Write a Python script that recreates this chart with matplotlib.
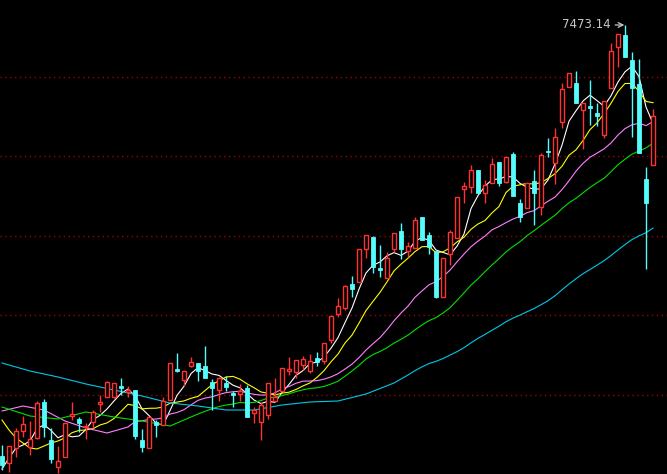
import matplotlib
matplotlib.use("Agg")
import matplotlib.pyplot as plt
import numpy as np
import pandas as pd

# OHLC values (left to right)
opens = [3163, 3093, 3243, 3413, 3253, 3343, 3703, 3323, 3053, 3153,
         3563, 3533, 3453, 3503, 3683, 3753, 3753, 3863, 3803, 3823,
         3323, 3243, 3503, 3473, 3723, 4033, 3923, 4063, 4093, 4063,
         3903, 3823, 3893, 3793, 3783, 3843, 3593, 3503, 3573, 3713,
         3813, 4013, 4003, 4073, 4013, 4143, 4113, 4323, 4583, 4643,
         4883, 4903, 5233, 5353, 5043, 4943, 5233, 5413, 5213, 5243,
         5553, 5373, 5213, 4753, 5183, 5343, 5833, 5853, 6023, 5793,
         5893, 6103, 5903, 6183, 5693, 5643, 5913, 5653, 6213, 6093,
         6503, 6853, 6893, 6623, 6663, 6593, 6373, 6843, 7253, 7373,
         7123, 6883, 5933, 6073]
highs = [3273, 3263, 3443, 3563, 3513, 3713, 3733, 3443, 3263, 3493,
         3703, 3553, 3493, 3623, 3773, 3913, 3893, 3943, 3863, 3823,
         3433, 3553, 3523, 3753, 4093, 4193, 4013, 4153, 4093, 4263,
         3933, 3953, 3963, 3813, 3883, 3873, 3653, 3703, 3893, 3943,
         4043, 4153, 4123, 4163, 4183, 4203, 4293, 4563, 4743, 4873,
         4963, 5233, 5373, 5363, 5273, 5203, 5393, 5493, 5303, 5553,
         5553, 5403, 5213, 5143, 5423, 5753, 5903, 6073, 6023, 5923,
         6143, 6103, 6153, 6203, 5733, 5893, 6023, 6193, 6343, 6443,
         6893, 6993, 7013, 6693, 6923, 6693, 6713, 7293, 7383, 7473.14,
         7203, 7133, 6053, 6633]
lows = [3023, 3003, 3153, 3353, 3173, 3333, 3353, 3093, 2993, 3153,
        3523, 3403, 3333, 3443, 3603, 3753, 3743, 3773, 3753, 3333,
        3203, 3243, 3353, 3473, 3723, 4003, 3863, 4053, 3913, 3943,
        3623, 3713, 3813, 3653, 3713, 3553, 3493, 3323, 3533, 3703,
        3813, 3973, 3943, 4023, 3993, 4063, 4083, 4293, 4553, 4623,
        4753, 4903, 5143, 4993, 4953, 4943, 5203, 5133, 5153, 5243,
        5323, 5183, 4743, 4753, 5073, 5343, 5693, 5793, 5793, 5693,
        5893, 5863, 5893, 5763, 5503, 5643, 5473, 5573, 6153, 5883,
        6443, 6853, 6693, 6233, 6473, 6463, 6343, 6843, 7053, 7153,
        6353, 6193, 5033, 6073]
closes = [3073, 3263, 3413, 3483, 3333, 3693, 3453, 3133, 3113, 3493,
          3583, 3493, 3463, 3603, 3703, 3903, 3893, 3843, 3823, 3363,
          3253, 3553, 3473, 3713, 4093, 4013, 4013, 4103, 4013, 3943,
          3843, 3943, 3853, 3773, 3813, 3553, 3623, 3673, 3893, 3753,
          4043, 4033, 4123, 4133, 4113, 4103, 4293, 4563, 4663, 4863,
          4833, 5233, 5373, 5053, 5023, 5143, 5393, 5233, 5263, 5523,
          5323, 5253, 4753, 5143, 5403, 5753, 5863, 6023, 5793, 5873,
          6083, 5893, 6153, 5763, 5553, 5893, 5793, 6173, 6203, 6353,
          6833, 6993, 6693, 6693, 6643, 6563, 6713, 7213, 7383, 7153,
          6843, 6193, 5693, 6563]

# moving-average values at the left edge (their history is off-chart)
ma5_head_idx = [0, 1, 2, 3]
ma5_head_val = [3033, 3143, 3243, 3273]
ma10_head_idx = [0, 1, 2, 3, 4, 5, 6, 7, 8]
ma10_head_val = [3523, 3423, 3343, 3293, 3243, 3233, 3263, 3293, 3313]
ma20_head_idx = [0, 3, 6, 9, 12, 15, 18]
ma20_head_val = [3613, 3663, 3623, 3513, 3443, 3393, 3453]
ma30_head_idx = [0, 4, 8, 12, 16, 20, 24, 28]
ma30_head_val = [3653, 3563, 3533, 3603, 3553, 3513, 3463, 3583]
ma60_head_idx = [0, 4, 8, 12, 16, 20, 24, 28, 32, 36, 40, 44, 48, 52, 56, 58]
ma60_head_val = [4093, 4013, 3953, 3883, 3823, 3763, 3693, 3663, 3623,
                 3623, 3673, 3703, 3713, 3783, 3893, 3973]

grid_levels = [6955, 6160, 5365, 4570, 3775]
max_label = "7473.14"

UP = "#ff3232"
DOWN = "#54fcfc"
BG = "black"

o = np.array(opens, float)
h = np.array(highs, float)
l = np.array(lows, float)
c = np.array(closes, float)
x = np.arange(len(c))

fig = plt.figure(figsize=(6.67, 4.74), dpi=100, facecolor=BG)
ax = fig.add_axes([0, 0, 1, 1], facecolor=BG)
ax.set_xlim(-2 / 7, -2 / 7 + 667 / 7)
ax.set_ylim(2983, 7723)
ax.axis("off")

for g in grid_levels:
    ax.axhline(g, color="#a00000", lw=1, ls=(0, (1, 2.5)), zorder=1)

# moving averages
s = pd.Series(c)
ma_specs = [
    (5, ma5_head_idx, ma5_head_val, "white"),
    (10, ma10_head_idx, ma10_head_val, "#ffff00"),
    (20, ma20_head_idx, ma20_head_val, "#ff80ff"),
    (30, ma30_head_idx, ma30_head_val, "#00e000"),
    (60, ma60_head_idx, ma60_head_val, "#00c8e8"),
]
for n, hi, hv, col in ma_specs:
    ma = s.rolling(n).mean().to_numpy()
    xs = list(hi) + list(x[n - 1:])
    ys = list(hv) + list(ma[n - 1:])
    ax.plot(xs, ys, color=col, lw=0.8, zorder=2)

# candles
up = c >= o
w = 0.7
top = np.maximum(o, c)
bot = np.minimum(o, c)
for i in x:
    col = UP if up[i] else DOWN
    if up[i]:
        ax.vlines(i, top[i], h[i], color=col, lw=1, zorder=3)
        ax.vlines(i, l[i], bot[i], color=col, lw=1, zorder=3)
    else:
        ax.vlines(i, l[i], h[i], color=col, lw=1, zorder=3)
ax.bar(x[up], (top - bot)[up], bottom=bot[up], width=w,
       facecolor=BG, edgecolor=UP, linewidth=1, zorder=4)
ax.bar(x[~up], np.maximum(top - bot, 8)[~up], bottom=bot[~up], width=w,
       facecolor=DOWN, edgecolor=DOWN, linewidth=0.6, zorder=4)

# highest-price marker
imax = int(np.argmax(h))
ax.annotate(max_label, xy=(imax - 0.1, h[imax]), xytext=(imax - 2.0, h[imax]),
            ha="right", va="center", fontsize=8.5, color="#c8c8c8",
            arrowprops=dict(arrowstyle="->", color="#c8c8c8", lw=0.9,
                            shrinkA=1, shrinkB=0))

fig.savefig("out.png", dpi=100, facecolor=BG)
